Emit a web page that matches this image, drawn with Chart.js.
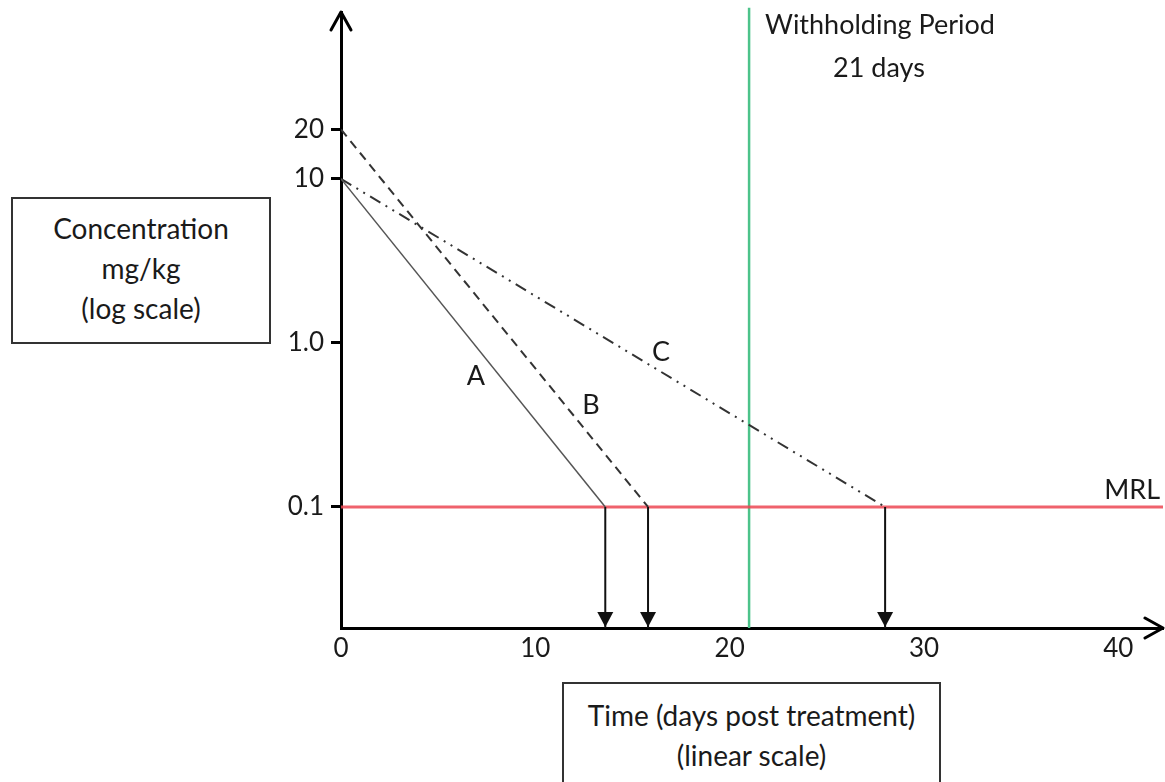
<!DOCTYPE html>
<html>
<head>
<meta charset="utf-8">
<script src="https://cdn.jsdelivr.net/npm/chart.js@4.4.1/dist/chart.umd.min.js"></script>
<style>
html, body { margin: 0; padding: 0; background: #fff; }
#wrap { position: relative; width: 1165px; height: 782px; overflow: hidden; font-family: Lato, "Open Sans", sans-serif; color: #1a1a1a; }
#chart { position: absolute; left: 0; top: 0; }
.box { position: absolute; border: 2px solid #333; background: #fff; text-align: center; font-size: 28px; line-height: 40px; box-sizing: border-box; }
</style>
</head>
<body>
<div id="wrap">
    <canvas id="chart" width="1165" height="782"></canvas>
    <div class="box" style="left:11px;top:197px;width:260px;height:147px;padding-top:9px;">Concentration<br>mg/kg<br>(log scale)</div>
    <div class="box" style="left:562px;top:682px;width:379px;height:120px;padding-top:11px;">Time (days post treatment)<br>(linear scale)</div>
</div>
<script>
const xTicks = [0, 10, 20, 30, 40];
const yTicks = [0.1, 1, 10, 20];
const yTickLabels = ["0.1", "1.0", "10", "20"];

const curveNames = ["A", "B", "C"];
const startConc = [10, 20, 10];
const depletionDays = [13.6, 15.8, 28.0];
const mrl = 0.1;
const withholdingDays = 21;

const xMax = 42.3;
const yMin = 0.0183;
const yMax = 104;

Chart.defaults.font.family = "Lato, 'Open Sans', sans-serif";
Chart.defaults.color = "#1a1a1a";

const curveStyles = [
    { color: "#555", width: 1.5, dash: [] },
    { color: "#333", width: 2, dash: [9, 6] },
    { color: "#333", width: 2, dash: [12, 6, 2, 6, 2, 6] }
];

const datasets = [];

curveNames.forEach((name, i) => {
    datasets.push({
        label: name,
        data: [{ x: 0, y: startConc[i] }, { x: depletionDays[i], y: mrl }],
        borderColor: curveStyles[i].color,
        borderWidth: curveStyles[i].width,
        borderDash: curveStyles[i].dash,
        order: 1
    });
    datasets.push({
        label: name + " drop",
        data: [{ x: depletionDays[i], y: mrl }, { x: depletionDays[i], y: yMin }],
        borderColor: "#111",
        borderWidth: 2,
        order: 1
    });
});

datasets.push({
    label: "MRL",
    data: [{ x: 0, y: mrl }, { x: xMax, y: mrl }],
    borderColor: "rgba(236,70,82,0.85)",
    borderWidth: 3,
    order: 2
});

datasets.push({
    label: "Withholding",
    data: [{ x: withholdingDays, y: yMin }, { x: withholdingDays, y: yMax * 1.06 }],
    borderColor: "#4cc38a",
    borderWidth: 2.5,
    clip: false,
    order: 3
});

const annotations = {
    id: "annotations",
    afterDraw(chart) {
        const ctx = chart.ctx;
        const x = chart.scales.x;
        const area = chart.chartArea;
        ctx.save();

        // arrowheads on the drop lines
        ctx.fillStyle = "#111";
        depletionDays.forEach(d => {
            const px = x.getPixelForValue(d);
            ctx.beginPath();
            ctx.moveTo(px, area.bottom - 1);
            ctx.lineTo(px - 8, area.bottom - 16);
            ctx.lineTo(px + 8, area.bottom - 16);
            ctx.closePath();
            ctx.fill();
        });

        // axis arrows
        ctx.strokeStyle = "#000";
        ctx.lineWidth = 3;
        ctx.lineCap = "round";
        ctx.lineJoin = "round";
        ctx.beginPath();
        ctx.moveTo(area.left - 10, area.top + 18);
        ctx.lineTo(area.left, area.top);
        ctx.lineTo(area.left + 10, area.top + 18);
        ctx.stroke();
        ctx.beginPath();
        ctx.moveTo(area.right - 18, area.bottom - 10);
        ctx.lineTo(area.right, area.bottom);
        ctx.lineTo(area.right - 18, area.bottom + 10);
        ctx.stroke();

        // text labels
        ctx.fillStyle = "#1a1a1a";
        ctx.font = "27px Lato, 'Open Sans', sans-serif";
        ctx.textBaseline = "middle";
        ctx.textAlign = "center";
        ctx.fillText("A", 476, 376);
        ctx.fillText("B", 591, 405);
        ctx.fillText("C", 661, 352);
        ctx.fillText("Withholding Period", 880, 25);
        ctx.fillText("21 days", 879, 68);
        ctx.textAlign = "right";
        ctx.fillText("MRL", 1160, 490);
        ctx.restore();
    }
};

new Chart(document.getElementById("chart"), {
    type: "scatter",
    data: { datasets: datasets },
    plugins: [annotations],
    options: {
        responsive: false,
        animation: false,
        showLine: true,
        elements: { point: { radius: 0 } },
        layout: { padding: { left: 0, top: 12, right: 2, bottom: 0 } },
        plugins: {
            legend: { display: false },
            tooltip: { enabled: false }
        },
        scales: {
            x: {
                type: "linear",
                min: 0,
                max: xMax,
                afterBuildTicks: s => { s.ticks = xTicks.map(v => ({ value: v })); },
                afterFit: s => { s.height = 154; s.paddingLeft = 0; s.paddingRight = 0; },
                grid: { display: false, drawTicks: false },
                border: { display: true, color: "#000", width: 3 },
                ticks: { padding: 5, font: { size: 26 }, color: "#1a1a1a", maxRotation: 0 }
            },
            y: {
                type: "logarithmic",
                min: yMin,
                max: yMax,
                afterBuildTicks: s => { s.ticks = yTicks.map(v => ({ value: v })); },
                afterFit: s => { s.width = 341; s.paddingTop = 0; s.paddingBottom = 0; },
                grid: { drawOnChartArea: false, drawTicks: true, tickLength: 10, color: "#000", lineWidth: 3 },
                border: { display: true, color: "#000", width: 3 },
                ticks: {
                    padding: 7,
                    font: { size: 26 },
                    color: "#1a1a1a",
                    callback: (v) => {
                        const i = yTicks.indexOf(v);
                        return i >= 0 ? yTickLabels[i] : "";
                    }
                }
            }
        }
    }
});
</script>
</body>
</html>
